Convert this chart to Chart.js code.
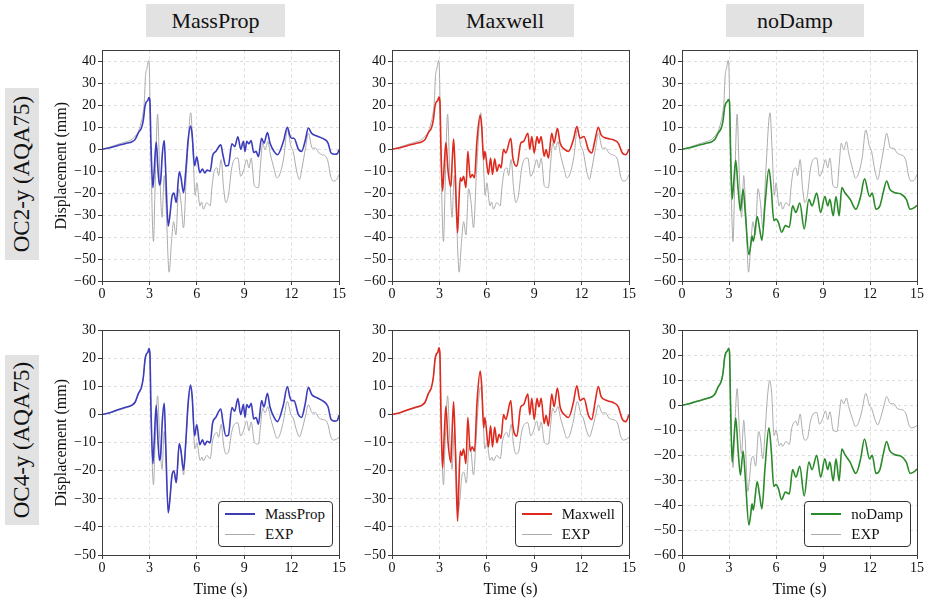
<!DOCTYPE html>
<html><head><meta charset="utf-8">
<script src="https://cdn.jsdelivr.net/npm/chart.js@4.4.0/dist/chart.umd.min.js"></script>
<style>
body{margin:0;background:#fff;}
#wrap{position:relative;width:930px;height:599px;overflow:hidden;background:#fff;font-family:"Liberation Serif",serif;color:#111;}
canvas{position:absolute;}
.hdr{position:absolute;top:4px;height:33px;background:#e2e2e2;font-size:22px;line-height:33px;text-align:center;}
.rowl{position:absolute;left:5px;width:34px;background:#e2e2e2;}
.rowl span{position:absolute;left:50%;top:50%;transform:translate(-50%,-50%) rotate(-90deg);white-space:nowrap;font-size:23px;}
.leg{position:absolute;top:501px;height:46px;box-sizing:border-box;border:1px solid #333;border-radius:4px;background:#fff;padding:2px 7px 0 46px;font-size:15px;}
.it{position:relative;height:20px;line-height:20px;white-space:nowrap;}
.it i{position:absolute;left:-40px;width:30px;}
</style>
</head><body>
<div id="wrap"></div>
<script>
// ---------- data ----------
const columns = ['MassProp', 'Maxwell', 'noDamp'];
const rows = ['OC2-y (AQA75)', 'OC4-y (AQA75)'];
const xTicks = [0, 3, 6, 9, 12, 15];
const yTicksTop = [-60, -50, -40, -30, -20, -10, 0, 10, 20, 30, 40];
const yTicksBottom = [-50, -40, -30, -20, -10, 0, 10, 20, 30];
const yTicksNoDampBottom = [-60, -50, -40, -30, -20, -10, 0, 10, 20, 30];

const tMassProp = [0,0.5,1.0,1.5,1.9,2.1,2.3,2.5,2.62,2.72,2.8,2.9,2.97,3.03,3.1,3.22,3.3,3.43,3.55,3.64,3.72,3.82,3.94,4.02,4.19,4.3,4.42,4.55,4.7,4.89,5.0,5.16,5.3,5.45,5.6,5.7,5.86,6.0,6.19,6.36,6.5,6.65,6.85,7.0,7.2,7.52,7.65,7.84,8.0,8.22,8.4,8.6,8.78,8.95,9.05,9.16,9.3,9.44,9.6,9.75,9.9,10.1,10.25,10.47,10.63,10.9,11.1,11.48,11.73,11.9,12.0,12.15,12.43,12.63,12.85,13.06,13.27,13.6,14.0,14.3,14.5,14.75,14.9,15.0];
const vMassProp = [0,0.7,1.7,2.6,3.4,4.5,7.5,9.8,13.5,19.5,21.5,22.2,23.5,22,2,-17.5,-10,3.3,-10,-16.3,-14,-2,4,-8,-35,-30,-22,-20,-24.2,-10.3,-13,-19.8,-10,4,10.5,7,-7.5,-3.5,-10.7,-9,-10.8,-9.5,-10,-3,-1,2,-2.5,-7.6,-7.3,2.5,1.2,5.7,0,3.6,-1,3.6,2.5,4,-1.5,-1,-3.4,5,2.7,7.6,2.8,-1.1,-2.5,3.5,10,6,5,5,0,-1,3.5,9.7,7.2,6,4.8,2.9,-1.7,-2.3,-2.0,-0.2];

const tMaxwell = [0,0.5,1.0,1.5,1.9,2.1,2.3,2.5,2.62,2.72,2.8,2.9,2.97,3.03,3.1,3.2,3.3,3.41,3.55,3.73,3.82,3.9,4.0,4.15,4.23,4.32,4.42,4.53,4.68,4.8,4.95,5.08,5.22,5.38,5.58,5.68,5.8,5.88,6.1,6.24,6.36,6.5,6.64,6.78,6.9,7.06,7.2,7.52,7.65,7.9,8.15,8.32,8.6,8.72,8.85,9.0,9.18,9.3,9.44,9.63,9.75,9.9,10.11,10.26,10.47,10.64,10.95,11.17,11.48,11.7,11.9,12.15,12.43,12.64,12.85,13.06,13.23,13.6,14.0,14.32,14.58,14.8,15.0];
const vMaxwell = [0,0.7,1.7,2.6,3.4,4.5,7.5,9.8,13.5,19.5,21.5,22.2,23.8,22,0,-19,-8,3,-10,-17,-4,4.6,-10,-38,-25,-13,-14.5,-12.3,-17.5,-1,-13,-11.5,-13,4.3,15.5,10,-4.7,-1,-11.5,-4,-11.5,-4.4,-10,-7,-8.5,0,-1.7,5,-4,-7.7,2.8,3.5,7.3,0,5.8,-1.7,5.8,2.8,5.8,-3.2,-0.2,-4,7.3,2.8,9.5,2.8,-0.2,-1,4.3,10.3,5,5.8,-0.2,-1.7,4.3,10,6.5,5,4.3,2.8,-1.7,-2.5,0];

const tNoDamp = [0,0.5,1.0,1.5,1.9,2.1,2.3,2.5,2.62,2.72,2.8,2.9,2.97,3.03,3.1,3.2,3.3,3.43,3.58,3.73,3.9,4.05,4.27,4.38,4.47,4.55,4.8,4.95,5.1,5.3,5.55,5.7,5.86,6.0,6.15,6.36,6.6,6.85,7.06,7.27,7.52,7.8,8.1,8.3,8.6,8.85,9.12,9.3,9.44,9.65,9.83,10.03,10.2,10.4,10.73,11.1,11.4,11.65,11.97,12.14,12.38,12.63,12.85,13.06,13.27,13.6,14.0,14.32,14.56,14.85,15.0];
const vNoDamp = [0,0.7,1.7,2.6,3.4,4.5,7.3,9.5,13,19,21,21.8,22.6,21.5,0,-22.8,-15,-5,-18,-28,-18.3,-30,-48,-44,-39.5,-42,-30.6,-36,-41.5,-25,-9,-18.3,-32.5,-31.8,-33.3,-37.8,-34.8,-35.5,-25.8,-28.8,-24.5,-36.3,-22.8,-25.8,-20,-28.8,-21.5,-25.8,-22.8,-30.3,-21.5,-30.3,-17.5,-19.8,-22.8,-27.3,-21.5,-13.5,-21.5,-20,-27.3,-25.8,-19.5,-14.5,-18.3,-19.8,-20.5,-22.8,-27.3,-26.5,-25.5];

const tExpOC2 = [0,0.5,1.0,1.5,1.9,2.1,2.3,2.45,2.6,2.68,2.75,2.85,2.95,3.0,3.1,3.26,3.35,3.52,3.65,3.8,3.94,4.05,4.25,4.4,4.53,4.68,4.85,5.0,5.16,5.35,5.62,5.75,5.9,6.0,6.2,6.3,6.42,6.63,6.85,6.95,7.1,7.27,7.38,7.54,7.7,7.84,8.0,8.2,8.37,8.6,8.78,8.95,9.16,9.3,9.44,9.65,9.9,10.04,10.17,10.32,10.5,10.64,10.9,11.06,11.2,11.5,11.73,11.96,12.1,12.32,12.5,12.64,12.9,13.06,13.31,13.52,13.73,13.94,14.15,14.3,14.47,14.64,14.85,15.0];
const vExpOC2 = [0,1,2.2,3.3,4.5,6,8,11.5,16.5,22,33,37,40.5,36,-5,-42,-20,16,-10,-31,-12,-25,-56,-42,-33,-39,-18,-24,-35.8,-10,16.6,0,-21,-15.3,-25.8,-24,-27.3,-24.3,-25.8,-18,-10,-8.5,-12,-4.7,-18,-24.3,-21,-9,-4.7,-4,-12.3,-10,-4.7,-8.5,-4,-16.8,-17.5,-6.2,2.8,-0.2,3.5,-1.7,-9.2,-13,-12.3,-4,8.8,1.3,-1,-10,-13.8,-9.2,1.3,7.3,0.5,0.5,-1.7,-2.5,-3.2,-5.5,-12.3,-14.5,-13.8,-11.5];

const tExpOC4 = [0,0.5,1.0,1.5,1.9,2.1,2.3,2.5,2.62,2.72,2.8,2.9,2.97,3.03,3.1,3.26,3.35,3.52,3.65,3.8,3.94,4.02,4.2,4.3,4.42,4.55,4.7,4.89,5.0,5.16,5.3,5.45,5.6,5.72,5.88,6.0,6.21,6.32,6.42,6.63,6.85,7.0,7.27,7.38,7.54,7.7,7.84,8.0,8.2,8.37,8.6,8.78,8.95,9.16,9.3,9.44,9.65,9.9,10.04,10.17,10.32,10.5,10.64,10.9,11.06,11.2,11.48,11.73,11.96,12.1,12.32,12.5,12.64,12.9,13.06,13.31,13.52,13.73,13.94,14.15,14.3,14.47,14.64,14.85,15.0];
const vExpOC4 = [0,0.6,1.5,2.4,3.2,4.3,7.3,9.6,13.3,19.3,21.3,22,23.2,21.8,0,-25,-12,6.7,-8,-19.5,-6,-12,-34.5,-30,-22,-20.5,-24.4,-10.5,-13,-21.5,-11,3,9.9,5,-12.2,-9.9,-16.3,-15.1,-16.5,-14.5,-15.7,-9.3,-6.4,-8.1,-3.5,-11,-14,-13.4,-6.4,-3.5,-2.9,-7.6,-5.8,-2.3,-5.8,-2.6,-9.9,-10.5,-3.5,2.3,0.6,2.9,-0.6,-5.8,-8.4,-7.9,-2.3,4.7,0,-1.2,-5.8,-7.9,-5.8,0,3.5,0.6,0.6,-1.2,-1.7,-2.1,-3.5,-7.6,-9.1,-8.7,-8.1];

// ---------- layout ----------
const colLeft = [102, 392, 682];
const colRight = [339, 629, 917];
const rowTop = [46, 326];
const rowBottom = [281, 555];
const simColors = ['#3c3cbc', '#de2a1e', '#2a8a2a'];
const expColor = '#ababab';
const FONT = 'Liberation Serif';

const sims = [[tMassProp, vMassProp], [tMaxwell, vMaxwell], [tNoDamp, vNoDamp]];
const exps = [[tExpOC2, vExpOC2], [tExpOC4, vExpOC4]];
const yTickSets = [[yTicksTop, yTicksTop, yTicksTop], [yTicksBottom, yTicksBottom, yTicksNoDampBottom]];
const yRanges = [[[-60,45],[-60,45],[-60,45]], [[-50,30],[-50,30],[-60,30]]];

const wrap = document.getElementById('wrap');

const framePlugin = {
  id: 'frame',
  afterDatasetsDraw(ch) {
    const a = ch.chartArea, ctx = ch.ctx;
    ctx.save();
    ctx.strokeStyle = '#3d3d3d';
    ctx.lineWidth = 1;
    const l = Math.round(a.left), t = Math.round(a.top), r = Math.round(a.right), b = Math.round(a.bottom);
    ctx.strokeRect(l + 0.5, t + 0.5, r - l, b - t);
    ctx.restore();
  }
};

const fmt = v => (v < 0 ? '\u2212' + Math.abs(v) : String(v));
const pts = (t, v) => t.map((x, i) => ({x: x, y: v[i]}));

for (let r = 0; r < 2; r++) {
  for (let c = 0; c < 3; c++) {
    const YW = c === 0 ? 52 : 40;
    const XH = r === 0 ? 22 : 45;
    const PT = 6, PR = 8;
    const left = colLeft[c] - YW;
    const top = rowTop[r] - PT;
    const width = colRight[c] + PR - left;
    const height = rowBottom[r] + XH - top;
    const cv = document.createElement('canvas');
    cv.width = width; cv.height = height;
    cv.style.left = left + 'px'; cv.style.top = top + 'px';
    cv.style.width = width + 'px'; cv.style.height = height + 'px';
    wrap.appendChild(cv);
    const yt = yTickSets[r][c];
    new Chart(cv, {
      type: 'line',
      data: {
        datasets: [
          {label: columns[c], data: pts(sims[c][0], sims[c][1]), borderColor: simColors[c], borderWidth: 1.6,
           pointRadius: 0, cubicInterpolationMode: 'monotone', fill: false},
          {label: 'EXP', data: pts(exps[r][0], exps[r][1]), borderColor: expColor, borderWidth: 1,
           pointRadius: 0, cubicInterpolationMode: 'monotone', fill: false}
        ]
      },
      options: {
        responsive: false, animation: false, devicePixelRatio: 1,
        layout: {padding: {left: 0, top: PT, right: PR, bottom: 0}},
        plugins: {legend: {display: false}, tooltip: {enabled: false}},
        scales: {
          x: {
            type: 'linear', min: 0, max: 15,
            afterBuildTicks: s => { s.ticks = xTicks.map(v => ({value: v})); },
            afterFit: s => { s.height = XH; },
            ticks: {font: {family: FONT, size: 14}, color: '#111', padding: 1, maxRotation: 0, autoSkip: false},
            grid: {color: 'rgba(0,0,0,0.13)', tickColor: '#3d3d3d', tickLength: 4, tickWidth: 1, lineWidth: 1},
            border: {display: false, dash: [3, 3]},
            title: {display: r === 1, text: 'Time (s)', font: {family: FONT, size: 16}, color: '#111', padding: {top: 0, bottom: 1}}
          },
          y: {
            type: 'linear', min: yRanges[r][c][0], max: yRanges[r][c][1],
            afterBuildTicks: s => { s.ticks = yt.map(v => ({value: v})); },
            afterFit: s => { s.width = YW; },
            ticks: {font: {family: FONT, size: 14}, color: '#111', padding: 2, callback: v => fmt(v)},
            grid: {color: 'rgba(0,0,0,0.13)', tickColor: '#3d3d3d', tickLength: 4, tickWidth: 1, lineWidth: 1},
            border: {display: false, dash: [3, 3]},
            title: {display: c === 0, text: 'Displacement (mm)', font: {family: FONT, size: 16}, color: '#111', padding: {top: 2, bottom: 0}}
          }
        }
      },
      plugins: [framePlugin]
    });
  }
}

// headers
const hdrPos = [[146, 139], [436, 138], [726, 138]];
columns.forEach((name, i) => {
  const d = document.createElement('div');
  d.className = 'hdr';
  d.style.left = hdrPos[i][0] + 'px';
  d.style.width = hdrPos[i][1] + 'px';
  d.textContent = name;
  wrap.appendChild(d);
});
// row labels
const rowPos = [[88, 172], [355, 170]];
rows.forEach((name, i) => {
  const d = document.createElement('div');
  d.className = 'rowl';
  d.style.top = rowPos[i][0] + 'px';
  d.style.height = rowPos[i][1] + 'px';
  const s = document.createElement('span');
  s.textContent = name;
  d.appendChild(s);
  wrap.appendChild(d);
});
// legends (bottom row)
columns.forEach((name, c) => {
  const d = document.createElement('div');
  d.className = 'leg';
  d.style.right = (930 - (colRight[c] - 6)) + 'px';
  d.innerHTML = '<div class="it"><i style="top:9px;height:1.5px;background:' + simColors[c] + '"></i>' + name + '</div>' +
                '<div class="it"><i style="top:10px;height:1px;background:' + expColor + '"></i>EXP</div>';
  wrap.appendChild(d);
});
</script>
</body></html>
